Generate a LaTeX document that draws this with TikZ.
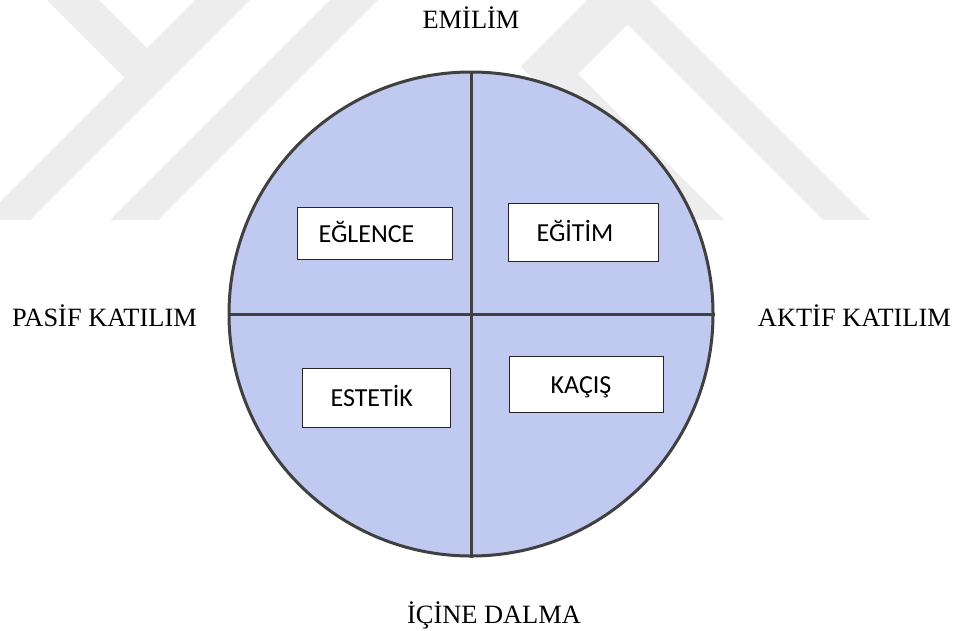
\documentclass[tikz,border=0pt]{standalone}
\usepackage{fontspec}
\setmainfont{Liberation Serif}
\newfontfamily\boxfont{Carlito}
\definecolor{quadfill}{RGB}{192,201,240}
\definecolor{rimgray}{RGB}{64,64,64}

\begin{document}
\begin{tikzpicture}[x=1pt,y=-1pt,
  wmark/.style={fill=black!7},
  axislabel/.style={font=\fontsize{26.4}{30}\selectfont, inner sep=0pt},
  quadbox/.style={draw=black!85, line width=1.2pt, fill=white, anchor=north west,
    font=\boxfont\fontsize{26}{30}\selectfont, align=left, text height=17pt, text depth=0pt}]
\useasboundingbox (0,0) rectangle (957,630);

\fill[wmark] (47,0) -- (124.5,77.5) -- (0,202) -- (0,220) -- (30,220) -- (250,0) -- (195,0) -- (147,48) -- (99,0) -- cycle;
\fill[wmark] (110,220) -- (158,220) -- (378,0) -- (330,0) -- cycle;
\fill[wmark] (587,0) -- (650,0) -- (870,220) -- (823,220) -- (627.5,24.5) -- (578,74) -- (724,220) -- (674,220) -- (520.5,66.5) -- cycle;

\node[circle, draw=rimgray, line width=3pt, fill=quadfill, minimum size=484pt, inner sep=0pt] (disk) at (471,314) {};
\draw[rimgray, line width=3pt] (disk.north) -- (disk.south);
\draw[rimgray, line width=3pt] (disk.west) -- (disk.east);

\node[quadbox, text width=113pt, inner xsep=21pt, minimum height=52pt] (eglence) at (297,207) {EĞLENCE};
\node[quadbox, text width=94pt, inner xsep=28pt, minimum height=58pt] (egitim) at (508,203) {EĞİTİM};
\node[quadbox, text width=92pt, inner xsep=28pt, minimum height=59pt] (estetik) at (302,368) {ESTETİK};
\node[quadbox, text width=72pt, inner xsep=41pt, minimum height=56pt] (kacis) at (509,356) {KAÇIŞ};

\node[axislabel, anchor=base] (emilim) at (471,28) {EMİLİM};
\node[axislabel, anchor=base] (icine) at (494,623) {İÇİNE DALMA};
\node[axislabel, anchor=base west] (pasif) at (12,326) {PASİF KATILIM};
\node[axislabel, anchor=base east] (aktif) at (951,326) {AKTİF KATILIM};

\end{tikzpicture}
\end{document}
